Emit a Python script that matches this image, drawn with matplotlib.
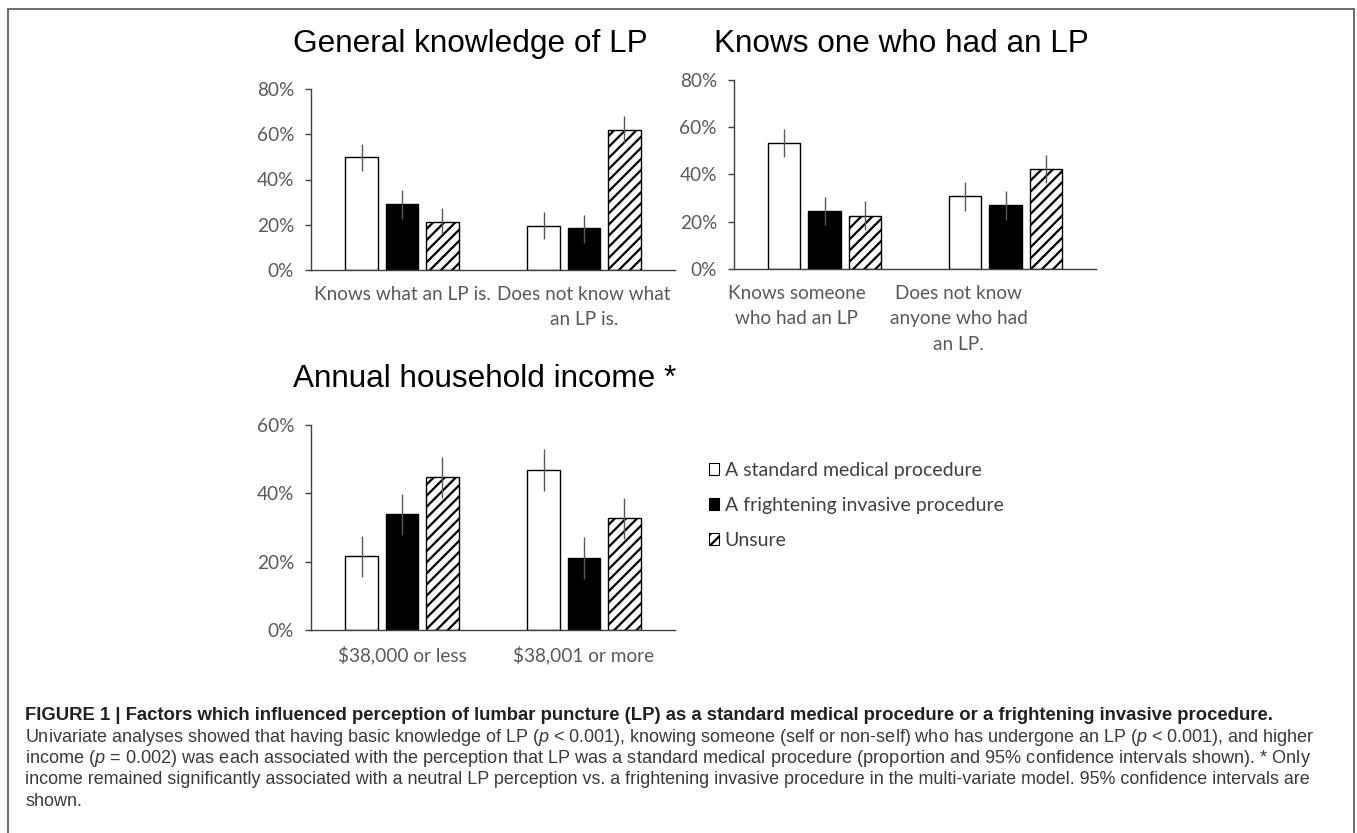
import matplotlib
matplotlib.use("Agg")
import matplotlib.pyplot as plt
from matplotlib.patches import Patch, Rectangle

# ---------------- data ----------------
series_names = ["A standard medical procedure", "A frightening invasive procedure", "Unsure"]

k_title = "General knowledge of LP"
k_categories = ["Knows what an LP is.", "Does not know what\nan LP is."]
k_standard = [50.0, 19.6]
k_frightening = [29.1, 18.7]
k_unsure = [21.4, 62.0]
k_lower = [[43.8, 13.6], [22.6, 12.1], [15.9, 56.1]]
k_upper = [[55.6, 25.7], [35.3, 24.4], [27.2, 68.2]]

o_title = "Knows one who had an LP"
o_categories = ["Knows someone\nwho had an LP", "Does not know\nanyone who had\nan LP."]
o_standard = [53.1, 30.9]
o_frightening = [24.6, 26.9]
o_unsure = [22.4, 42.3]
o_lower = [[47.1, 24.3], [18.6, 20.7], [16.4, 36.1]]
o_upper = [[59.1, 36.7], [30.5, 32.8], [28.5, 48.1]]

i_title = "Annual household income *"
i_categories = [r"\$38,000 or less", r"\$38,001 or more"]
i_standard = [21.8, 46.9]
i_frightening = [34.0, 21.1]
i_unsure = [44.7, 32.8]
i_lower = [[15.6, 40.8], [27.8, 14.9], [38.7, 26.7]]
i_upper = [[27.6, 52.9], [39.9, 27.1], [50.6, 38.7]]

yticks_top = [0, 20, 40, 60, 80]
yticks_bottom = [0, 20, 40, 60]

caption_bold = ("FIGURE 1 | Factors which influenced perception of lumbar puncture (LP) as a "
                "standard medical procedure or a frightening invasive procedure.")
caption_lines = [
    "Univariate analyses showed that having basic knowledge of LP ($p$ < 0.001), knowing someone "
    "(self or non-self) who has undergone an LP ($p$ < 0.001), and higher",
    "income ($p$ = 0.002) was each associated with the perception that LP was a standard medical "
    "procedure (proportion and 95% confidence intervals shown). * Only",
    "income remained significantly associated with a neutral LP perception vs. a frightening "
    "invasive procedure in the multi-variate model. 95% confidence intervals are",
    "shown.",
]

# ---------------- style ----------------
plt.rcParams["hatch.linewidth"] = 1.6
plt.rcParams["hatch.color"] = "black"
plt.rcParams["mathtext.fontset"] = "custom"
plt.rcParams["mathtext.it"] = "Liberation Sans:italic"
plt.rcParams["mathtext.rm"] = "Liberation Sans"

W, H = 1357, 833
fig = plt.figure(figsize=(W / 100, H / 100), dpi=100)
PT = 72 / 100  # points per pixel

LABEL_FONT = ["Lato", "DejaVu Sans"]
TITLE_FONT = ["Liberation Sans", "DejaVu Sans"]
GRAY = "#595959"

fills = ["white", "black", "white"]
hatches = [None, None, "///"]
BAR_W = 0.178
STEP = 0.222


def px_axes(left, right, top, bottom):
    return fig.add_axes([left / W, 1 - bottom / H, (right - left) / W, (bottom - top) / H])


def panel(ax, title, cats, series, lower, upper, yticks, label_dx, title_xy):
    xs = list(range(len(cats)))
    for s, vals in enumerate(series):
        pos = [x + (s - 1) * STEP for x in xs]
        ax.bar(pos, vals, width=BAR_W, color=fills[s], edgecolor="black",
               linewidth=1.0, hatch=hatches[s], zorder=2)
        ax.vlines(pos, lower[s], upper[s], color=GRAY, linewidth=1.0, zorder=3)
    ax.set_xlim(-0.5, len(cats) - 0.5)
    ax.set_ylim(0, yticks[-1])
    ax.set_yticks(yticks)
    ax.set_yticklabels([f"{t}%" for t in yticks], family=LABEL_FONT)
    ax.set_xticks([])
    ax.tick_params(axis="y", length=6 * PT, width=1.0, color="#404040",
                   labelcolor=GRAY, labelsize=19 * PT, pad=11 * PT)
    for sp in ("top", "right"):
        ax.spines[sp].set_visible(False)
    for sp in ("left", "bottom"):
        ax.spines[sp].set_color("#404040")
        ax.spines[sp].set_linewidth(1.0)
    for x, lab, dx in zip(xs, cats, label_dx):
        ax.annotate(lab, xy=(x, 0), xycoords=("data", "axes fraction"),
                    xytext=(dx * PT, -16 * PT), textcoords="offset points",
                    ha="center", va="top", multialignment="center",
                    fontsize=19 * PT, color=GRAY, family=LABEL_FONT, linespacing=1.6)
    fig.text(title_xy[0] / W, 1 - title_xy[1] / H, title, ha="center", va="baseline",
             fontsize=31.5 * PT, family=TITLE_FONT, color="black")


ax1 = px_axes(311, 675, 89, 270)
panel(ax1, k_title, k_categories, [k_standard, k_frightening, k_unsure],
      k_lower, k_upper, yticks_top, [0, 0], (470, 52))

ax2 = px_axes(734, 1096, 79.5, 269)
panel(ax2, o_title, o_categories, [o_standard, o_frightening, o_unsure],
      o_lower, o_upper, yticks_top, [-28, -47], (901, 52))

ax3 = px_axes(311, 675, 425, 630)
panel(ax3, i_title, i_categories, [i_standard, i_frightening, i_unsure],
      i_lower, i_upper, yticks_bottom, [0, 0], (485, 387))

# legend
handles = [Patch(facecolor=fills[s], edgecolor="black", hatch=hatches[s], linewidth=0.8)
           for s in range(3)]
fig.legend(handles, series_names, loc="upper left",
           bbox_to_anchor=(709 / W, 1 - 462 / H), frameon=False,
           prop={"family": LABEL_FONT, "size": 19.5 * PT},
           labelcolor="#404040", handlelength=0.5, handleheight=0.55,
           handletextpad=0.3, labelspacing=0.92, borderpad=0, borderaxespad=0)

# frame
fig.add_artist(Rectangle((8 / W, -0.05), (1354 - 8) / W, 1.05 - 9 / H,
                         transform=fig.transFigure, fill=False,
                         edgecolor="#6d6d6d", linewidth=1.4))

# caption
x0 = 25
t_bold = fig.text(x0 / W, 1 - 715 / H, caption_bold, ha="left", va="center",
                  fontsize=11.3, fontweight="bold", family=TITLE_FONT, color="#231f20")
line_y = [737, 758.5, 780, 802]
t_lines = [fig.text(x0 / W, 1 - y / H, s, ha="left", va="center", fontsize=11.3,
                    family=TITLE_FONT, color="#3a3a3a") for s, y in zip(caption_lines, line_y)]

# fit caption widths to the reference
fig.canvas.draw()
r = fig.canvas.get_renderer()
wb = t_bold.get_window_extent(r).width
t_bold.set_fontsize(11.3 * (1282 - x0) / wb)
fits = []
for t in t_lines[:3]:
    w = t.get_window_extent(r).width
    fits.append(11.3 * (1316 - x0) / w)
for t, f in zip(t_lines[:3], fits):
    t.set_fontsize(f)
t_lines[3].set_fontsize(fits[0])

fig.savefig("out.png", dpi=100)
